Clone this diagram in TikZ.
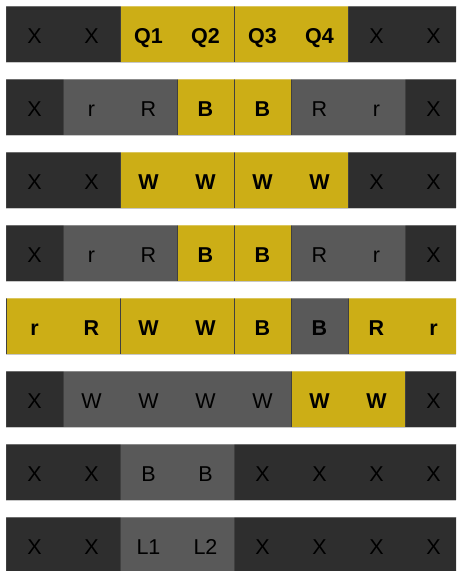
\documentclass[tikz,border=0pt]{standalone}
\usepackage{fontspec}
\setsansfont{Liberation Sans}
\usetikzlibrary{calc}

\begin{document}
\begin{tikzpicture}[x=1pt, y=-1pt, line cap=butt,
  lab n/.style={font=\sffamily\fontsize{21.5}{25}\selectfont, text=black,
                text height=15.4pt, text depth=0pt, inner sep=0pt},
  lab b/.style={lab n, font=\sffamily\bfseries\fontsize{21.5}{25}\selectfont},
  edge/.style={draw=black!75, line width=0.7pt}]
  \colorlet{darkcol}{black!82}
  \colorlet{greycol}{black!65}
  \definecolor{goldcol}{RGB}{204,174,22}
  \useasboundingbox (0,0) rectangle (456,571);
  \clip (0,0) rectangle (456,571);
  \fill[white] (0,0) rectangle (456,571);
  \foreach \r/\segs/\labs in {%
      0/{0/2/darkcol,2/2/goldcol,4/2/goldcol,6/2/darkcol}/{X/n,X/n,Q1/b,Q2/b,Q3/b,Q4/b,X/n,X/n},
      1/{0/1/darkcol,1/2/greycol,3/1/goldcol,4/1/goldcol,5/2/greycol,7/1/darkcol}/{X/n,r/n,R/n,B/b,B/b,R/n,r/n,X/n},
      2/{0/2/darkcol,2/2/goldcol,4/2/goldcol,6/2/darkcol}/{X/n,X/n,W/b,W/b,W/b,W/b,X/n,X/n},
      3/{0/1/darkcol,1/2/greycol,3/1/goldcol,4/1/goldcol,5/2/greycol,7/1/darkcol}/{X/n,r/n,R/n,B/b,B/b,R/n,r/n,X/n},
      4/{0/2/goldcol,2/2/goldcol,4/1/goldcol,5/1/greycol,6/2/goldcol}/{r/b,R/b,W/b,W/b,B/b,B/b,R/b,r/b},
      5/{0/1/darkcol,1/4/greycol,5/2/goldcol,7/1/darkcol}/{X/n,W/n,W/n,W/n,W/n,W/b,W/b,X/n},
      6/{0/2/darkcol,2/2/greycol,4/4/darkcol}/{X/n,X/n,B/n,B/n,X/n,X/n,X/n,X/n},
      7/{0/2/darkcol,2/2/greycol,4/4/darkcol}/{X/n,X/n,L1/n,L2/n,X/n,X/n,X/n,X/n}} {%
    % segments of row \r
    \foreach \a/\n/\c in \segs {%
      \fill[\c] ({6+57*\a},{6+73*\r}) rectangle ++({57*\n},56);
      \draw[edge] ({6+57*\a},{6+73*\r}) -- ++(0,56);
      \draw[edge] ({6+57*(\a+\n)},{6+73*\r}) -- ++(0,56);
    }
    \draw[white, opacity=0.3, line width=0.8pt] (6,{6.4+73*\r}) -- (456,{6.4+73*\r});
    \draw[black!22, line width=1pt] (6,{62+73*\r}) -- (456,{62+73*\r});
    % labels of row \r
    \foreach \t/\w [count=\i from 0] in \labs
      \node[lab \w] (lab-\r-\i) at ({34.5+57*\i},{35.5+73*\r}) {\t};
  }
\end{tikzpicture}
\end{document}
